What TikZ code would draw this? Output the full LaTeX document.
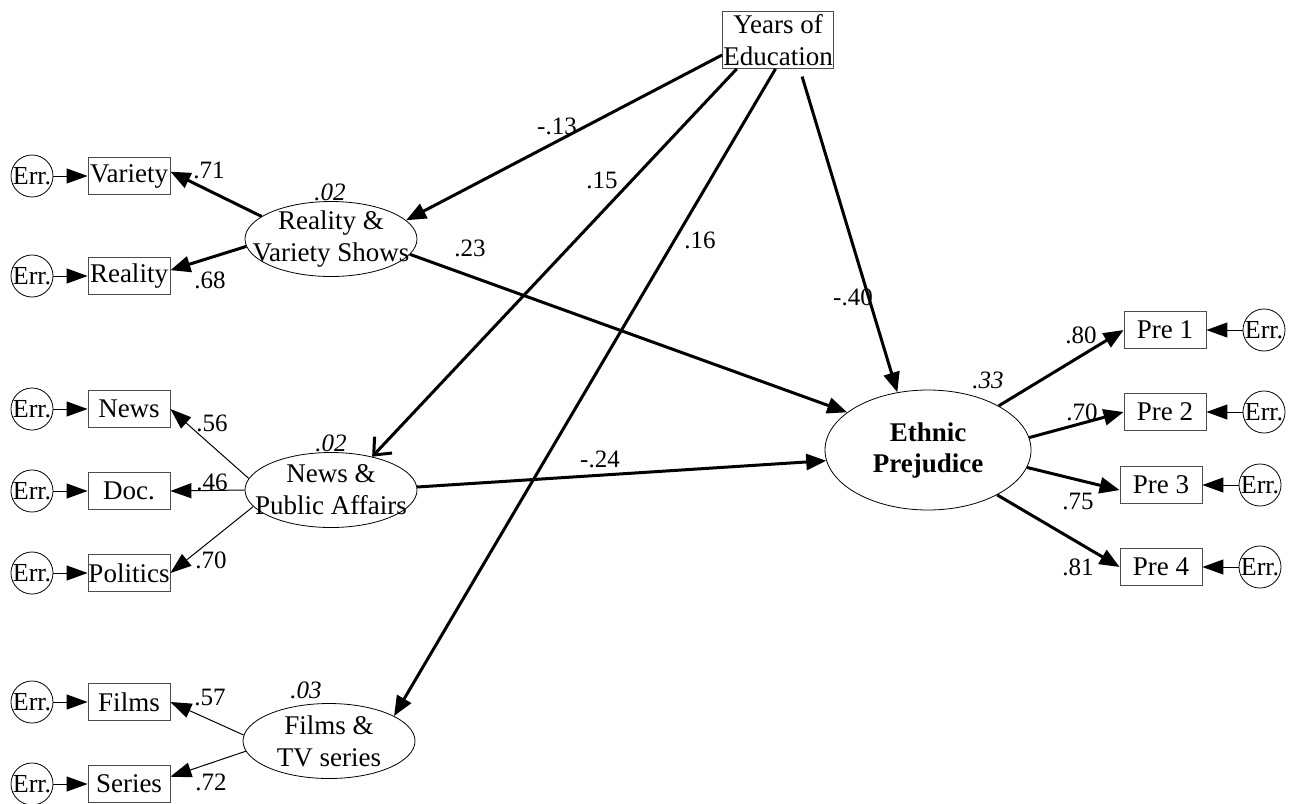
\documentclass[tikz,border=0pt]{standalone}
\usepackage{fontspec}
\setmainfont{Liberation Serif}
\usetikzlibrary{arrows.meta,shapes.geometric}

\begin{document}
\begin{tikzpicture}[x=0.5pt,y=-0.5pt]
      \tikzset{
        every node/.style={font=\fontsize{13.5}{16}\selectfont},
        obs/.style={rectangle,draw=black!70,inner sep=0pt,minimum width=41pt,minimum height=18.5pt},
        lat/.style={ellipse,draw,inner sep=0pt,minimum width=86pt,minimum height=37.5pt},
        err/.style={circle,draw,inner sep=0pt,minimum size=21pt,font=\fontsize{13}{15}\selectfont},
        coef/.style={inner sep=0pt,font=\fontsize{12.5}{14}\selectfont},
        rsq/.style={inner sep=0pt,font=\fontsize{12.5}{14}\selectfont\itshape},
        strong/.style={line width=1.5pt,-{Triangle[length=10pt,width=8pt]}},
        weak/.style={line width=0.5pt,-{Triangle[length=10.5pt,width=7.5pt]}}
      }
      \useasboundingbox (0,0) rectangle (1293,803);

      % exogenous
      \node[obs,minimum width=55.5pt,minimum height=28.5pt,align=center] (educ) at (778,40) {Years of\\Education};

      % latent factors
      \node[lat,label={[align=center]center:{Reality \&\\Variety Shows}}] (realvar) at (331,239) {};
      \node[lat,label={[align=center]center:{News \&\\Public Affairs}}] (newspa) at (331,490) {};
      \node[lat,label={[align=center]center:{Films \&\\TV series}}] (filmstv) at (329,741) {};
      \node[lat,minimum width=103pt,minimum height=60pt,align=center,
            font=\fontsize{13.5}{15.5}\selectfont\bfseries] (prej) at (928,450) {Ethnic\\Prejudice};

      % indicators
      \node[obs] (variety) at (129,176) {Variety};
      \node[obs] (reality) at (129,276) {Reality};
      \node[obs] (news) at (129,409) {News};
      \node[obs] (doc) at (129,491) {Doc.};
      \node[obs] (politics) at (129,573) {Politics};
      \node[obs] (films) at (129,702) {Films};
      \node[obs] (series) at (129,784) {Series};
      \node[obs] (pre1) at (1165,330) {Pre 1};
      \node[obs] (pre2) at (1165,412) {Pre 2};
      \node[obs] (pre3) at (1161,485) {Pre 3};
      \node[obs] (pre4) at (1161,567) {Pre 4};

      % errors
      \foreach \n/\y in {e1/176,e2/276,e3/409,e4/491,e5/573,e6/702,e7/784}
        \node[err] (\n) at (32,\y) {Err.};
      \node[err] (e8) at (1264,330) {Err.};
      \node[err] (e9) at (1264,412) {Err.};
      \node[err] (e10) at (1260,485) {Err.};
      \node[err] (e11) at (1260,567) {Err.};

      \foreach \a/\b in {e1/variety,e2/reality,e3/news,e4/doc,e5/politics,e6/films,e7/series,
                         e8/pre1,e9/pre2,e10/pre3,e11/pre4}
        \draw[weak] (\a) -- (\b);

      % loadings
      \draw (realvar.162) edge[strong] (variety.6)
            (realvar.185) edge[strong] (reality.8)
            (newspa.172) edge[weak] (news.east)
            (newspa.180) edge[weak] (doc.east)
            (newspa.192) edge[weak] (politics.east)
            (filmstv.176) edge[weak] (films.east)
            (filmstv.187) edge[weak] (series.10);
      \draw (prej.32) edge[strong] (pre1.west)
            (prej.7) edge[strong] (pre2.west)
            (prej.350) edge[strong] (pre3.187)
            (prej.327) edge[strong] (pre4.west);

      % structural paths
      \draw (educ.195) edge[strong] (realvar.14)
            (educ.215) edge[line width=1.5pt,-{Straight Barb[length=7pt,width=12pt]}] (newspa.39)
            (educ.265) edge[strong] (filmstv.21)
            (educ.307) edge[strong,shorten <=4pt] (prej.118)
            (realvar.349) edge[strong] (prej.155)
            (newspa.2) edge[strong] (prej.186);

      % coefficients
      \node[coef] (c1) at (209,170) {.71};
      \node[coef] (c2) at (210,280) {.68};
      \node[coef] (c3) at (212,423) {.56};
      \node[coef] (c4) at (212,482) {.46};
      \node[coef] (c5) at (211,560) {.70};
      \node[coef] (c6) at (210,697) {.57};
      \node[coef] (c7) at (211,782) {.72};
      \node[coef] (c8) at (1081,335) {.80};
      \node[coef] (c9) at (1082,412) {.70};
      \node[coef] (c10) at (1078,501) {.75};
      \node[coef] (c11) at (1078,567) {.81};
      \node[coef] (c12) at (557,126) {-.13};
      \node[coef] (c13) at (602,180) {.15};
      \node[coef] (c14) at (700,240) {.16};
      \node[coef] (c15) at (853,297) {-.40};
      \node[coef] (c16) at (470,248) {.23};
      \node[coef] (c17) at (600,459) {-.24};

      % explained variance
      \node[rsq] (r1) at (330,192) {.02};
      \node[rsq] (r2) at (331,443) {.02};
      \node[rsq] (r3) at (306,690) {.03};
      \node[rsq] (r4) at (988,380) {.33};
    \end{tikzpicture}
\end{document}
